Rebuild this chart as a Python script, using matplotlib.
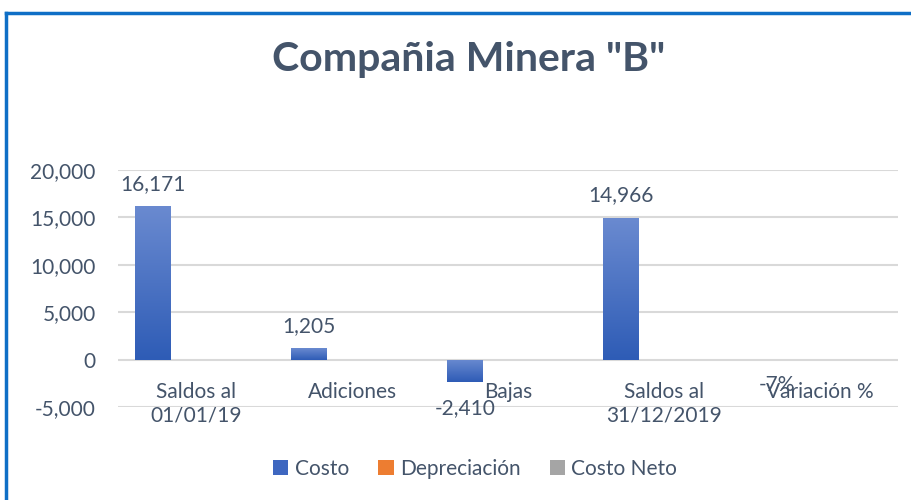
import numpy as np
import matplotlib
matplotlib.use("Agg")
import matplotlib.pyplot as plt
from matplotlib.lines import Line2D
from matplotlib.colors import LinearSegmentedColormap
from matplotlib.patches import Patch

# Data
categories = ["Saldos al\n01/01/19", "Adiciones", "Bajas", "Saldos al\n31/12/2019", "Variación %"]
costo = [16171, 1205, -2410, 14966, -0.07]
depreciacion = [0, 0, 0, 0, 0]
costo_neto = [0, 0, 0, 0, 0]
series_names = ["Costo", "Depreciación", "Costo Neto"]
yticks = [-5000, 0, 5000, 10000, 15000, 20000]

TEXT = "#44546A"
plt.rcParams['font.family'] = ['Lato', 'DejaVu Sans']

fig = plt.figure(figsize=(9.12, 5.0), dpi=100)
ax = fig.add_axes([118 / 912, 93 / 500, 780 / 912, 237 / 500])

x = np.arange(len(categories))
width = 0.23
step = 0.276

cmaps = [
    LinearSegmentedColormap.from_list("blue", ["#2E5CB6", "#6A8AD0"]),
    LinearSegmentedColormap.from_list("orange", ["#E46C1E", "#F3A06A"]),
    LinearSegmentedColormap.from_list("gray", ["#8E8E8E", "#BEBEBE"]),
]
solid = ["#3E67C0", "#ED7D31", "#A5A5A5"]

grad = np.linspace(0, 1, 256).reshape(-1, 1)
for i, vals in enumerate([costo, depreciacion, costo_neto]):
    bars = ax.bar(x + (i - 1) * step, vals, width, color=solid[i], zorder=2)
    for b in bars:
        h = b.get_height()
        if h == 0:
            continue
        x0 = b.get_x()
        y0, y1 = min(0, h), max(0, h)
        # gradient is lighter at the top of each bar
        img = ax.imshow(grad, cmap=cmaps[i], origin="lower", aspect="auto",
                        extent=[x0, x0 + width, y0, y1], zorder=3)
        img.set_clip_path(b)

# data labels for Costo
for xi, v in zip(x, costo):
    if abs(v) < 1:
        txt = f"{v:.0%}"
    else:
        txt = f"{v:,.0f}"
    off = 9 if v > 0 else -11
    ax.annotate(txt, (xi - step, v), xytext=(0, off), textcoords="offset points",
                ha="center", va="bottom" if v > 0 else "top",
                fontsize=15, color=TEXT, zorder=5)

ax.set_xlim(-0.5, len(categories) - 0.5)
ax.set_ylim(-5000, 20000)
ax.set_yticks(yticks)
ax.set_yticklabels([f"{t:,}" for t in yticks])
ax.yaxis.grid(True, color="#D9D9D9", linewidth=1.5, zorder=0)
ax.set_axisbelow(True)

ax.set_xticks(x)
ax.set_xticklabels(categories, linespacing=1.55)
for s in ["top", "right", "left"]:
    ax.spines[s].set_visible(False)
ax.spines["bottom"].set_position(("data", 0))
ax.spines["bottom"].set_visible(False)
ax.tick_params(axis="x", length=0, pad=16, labelsize=15, labelcolor=TEXT)
ax.tick_params(axis="y", length=0, pad=16, labelsize=15, labelcolor=TEXT)

fig.text(469 / 912, 1 - 59 / 500, 'Compañia Minera "B"', ha="center", va="center",
         fontsize=29.5, fontweight="bold", color=TEXT)

handles = [Patch(facecolor=c, edgecolor="none") for c in solid]
fig.legend(handles, series_names, loc="center", bbox_to_anchor=(475 / 912, 1 - 469 / 500),
           ncol=3, frameon=False, fontsize=15, labelcolor=TEXT,
           handlelength=0.75, handleheight=0.75, handletextpad=0.3, columnspacing=1.4)

# blue chart border (left and top edges visible)
fig.add_artist(Line2D([6 / 912, 6 / 912], [0, 1 - 13 / 500], color="#0F6FC6", linewidth=2.5))
fig.add_artist(Line2D([6 / 912, 1], [1 - 13 / 500, 1 - 13 / 500], color="#0F6FC6", linewidth=2.5))

fig.savefig("out.png", dpi=100)
